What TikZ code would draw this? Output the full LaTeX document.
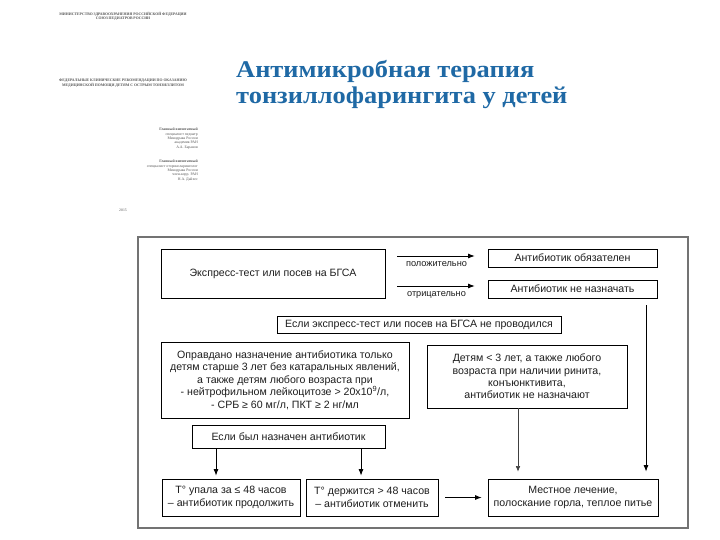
\documentclass[tikz,border=0pt]{standalone}
\usepackage{fontspec}
\setmainfont{Liberation Sans}
\newfontfamily\titlefont[FakeStretch=1.1]{Liberation Serif}
\newfontfamily\docfont{Liberation Serif}
\usetikzlibrary{arrows.meta}
\definecolor{titleblue}{RGB}{31,105,165}
\definecolor{framegray}{RGB}{115,115,115}
\definecolor{docgray}{RGB}{85,85,85}
\definecolor{ink}{RGB}{30,30,30}
\tikzset{
  box/.style={draw=black, line width=0.8pt, inner sep=0pt, align=center,
    font=\fontsize{10.6}{12.4}\selectfont, text=ink},
  arr/.style={-{Latex[length=6.5pt,width=5pt]}, line width=0.8pt},
  thinarr/.style={-{Latex[length=5.5pt,width=4.5pt]}, line width=0.5pt, draw=black!75},
  lbl/.style={font=\fontsize{9.2}{11}\selectfont, text=ink, inner sep=2pt},
  doc/.style={font=\docfont\fontsize{3.8}{4.3}\selectfont, text=docgray, inner sep=0pt},
  ttl/.style={font=\titlefont\bfseries\fontsize{24}{28}\selectfont, text=titleblue, inner sep=0pt, anchor=base west}
}
\begin{document}
\begin{tikzpicture}[x=1pt,y=-1pt]
\useasboundingbox[fill=white] (0,0) rectangle (720,540);

% scanned title page thumbnail
\node[doc, anchor=north, align=center] (d1) at (123,12) {\bfseries МИНИСТЕРСТВО ЗДРАВООХРАНЕНИЯ РОССИЙСКОЙ ФЕДЕРАЦИИ\\\bfseries СОЮЗ ПЕДИАТРОВ РОССИИ};
\node[doc, anchor=north, align=center] (d2) at (123,79) {\bfseries ФЕДЕРАЛЬНЫЕ КЛИНИЧЕСКИЕ РЕКОМЕНДАЦИИ ПО ОКАЗАНИЮ\\\bfseries МЕДИЦИНСКОЙ ПОМОЩИ ДЕТЯМ С ОСТРЫМ ТОНЗИЛЛИТОМ};
\node[doc, anchor=north east, align=right] (d3) at (198,128) {\bfseries Главный внештатный\\специалист педиатр\\Минздрава России\\академик РАН\\А.А. Баранов};
\node[doc, anchor=north east, align=right] (d4) at (198,160) {\bfseries Главный внештатный\\специалист оториноларинголог\\Минздрава России\\член-корр. РАН\\Н.А. Дайхес};
\node[doc, anchor=center] (d5) at (123,210) {2015};

% title
\node[ttl] (t1) at (236,78) {Антимикробная терапия};
\node[ttl] (t2) at (236,104) {тонзиллофарингита у детей};

% frame
\node[draw=framegray, line width=2pt, minimum width=550pt, minimum height=291pt, inner sep=0pt] (frame) at (413,382.5) {};

% boxes
\node[box, minimum width=224pt, minimum height=49pt] (expr) at (273,273.5) {Экспресс-тест или посев на БГСА};
\node[box, minimum width=169pt, minimum height=18pt] (ab1) at (572.5,258) {Антибиотик обязателен};
\node[box, minimum width=169pt, minimum height=18pt] (ab2) at (572.5,289) {Антибиотик не назначать};
\node[box, minimum width=284pt, minimum height=17pt] (ifnot) at (419,324.5) {Если экспресс-тест или посев на БГСА не проводился};
\node[box, minimum width=248pt, minimum height=76pt] (just) at (285,380) {Оправдано назначение антибиотика только\\детям старше 3 лет без катаральных явлений,\\а также детям любого возраста при\\- нейтрофильном лейкоцитозе > 20х10\textsuperscript{9}/л,\\- СРБ ≥ 60 мг/л, ПКТ ≥ 2 нг/мл};
\node[box, minimum width=200pt, minimum height=63pt] (det) at (527,376.5) {Детям < 3 лет, а также любого\\возраста при наличии ринита,\\конъюнктивита,\\антибиотик не назначают};
\node[box, minimum width=193pt, minimum height=23pt] (ifp) at (288.5,436.5) {Если был назначен антибиотик};
\node[box, minimum width=138pt, minimum height=37pt] (tdown) at (231,497.5) {T° упала за ≤ 48 часов\\– антибиотик продолжить};
\node[box, minimum width=132pt, minimum height=37pt] (tkeep) at (372,497.5) {T° держится > 48 часов\\– антибиотик отменить};
\node[box, minimum width=170pt, minimum height=37pt] (loc) at (573,497.5) {Местное лечение,\\полоскание горла, теплое питье};

% connectors
\path ([yshift=2pt]ab1.west) coordinate (ab1in);
\path ([yshift=3pt]ab2.west) coordinate (ab2in);
\draw[arr, shorten <=12pt, shorten >=13pt] (expr.east |- ab1in) -- node[lbl, below=3pt, pos=0.5] (pos) {положительно} (ab1in);
\draw[arr, shorten <=12pt, shorten >=13pt] (expr.east |- ab2in) -- node[lbl, below=3pt, pos=0.5] (neg) {отрицательно} (ab2in);

\path ([xshift=73pt]loc.north) coordinate (locin2);
\draw[arr, shorten <=7pt, shorten >=7pt] (ab2.south -| locin2) -- (locin2);

\path ([xshift=-9pt]det.south) coordinate (detout);
\draw[thinarr, shorten >=7pt] (detout) -- (detout |- loc.north);

\path ([xshift=-15pt]tdown.north) coordinate (tdin);
\path ([xshift=-11pt]tkeep.north) coordinate (tkin);
\draw[arr, shorten >=3pt] (ifp.south -| tdin) -- (tdin);
\draw[arr, shorten >=3pt] (ifp.south -| tkin) -- (tkin);

\draw[arr, shorten <=7pt, shorten >=6pt] (tkeep.east) -- (tkeep.east -| loc.west);
\end{tikzpicture}
\end{document}
